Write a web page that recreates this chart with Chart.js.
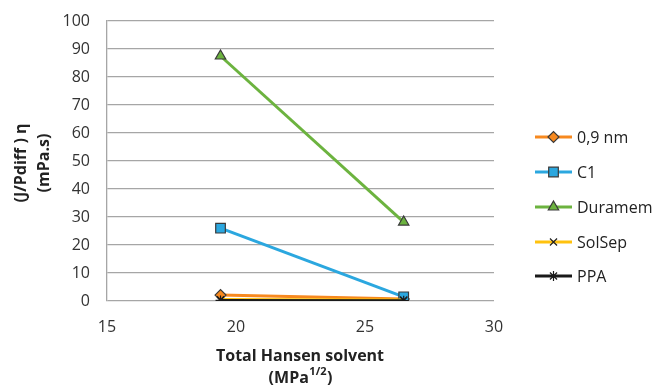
<!DOCTYPE html>
<html>
<head>
<meta charset="utf-8">
<script src="https://cdn.jsdelivr.net/npm/chart.js@4/dist/chart.umd.min.js"></script>
<style>
  html, body { margin: 0; padding: 0; background: #fff; }
  #wrap { width: 655px; height: 385px; }
</style>
</head>
<body>
<div id="wrap"><canvas id="c" width="655" height="385"></canvas></div>
<script>
// Total Hansen solubility parameter of the two solvents (MPa^1/2)
const solventDelta = [19.4, 26.5];

// (J/Pdiff) * viscosity for each membrane (mPa.s)
const seriesNames = ['0,9 nm', 'C1', 'Duramem', 'SolSep', 'PPA'];
const nm09    = [2.1, 0.7];
const c1      = [26.0, 1.5];
const duramem = [87.5, 28.2];
const solsep  = [0.5, 0.4];
const ppa     = [0.2, 0.1];

const xTicks = [15, 20, 25, 30];
const yTicks = [0, 10, 20, 30, 40, 50, 60, 70, 80, 90, 100];

const FONT = "'Open Sans', 'Liberation Sans', sans-serif";
const EDGE = '#3a3a3a';

function pts(vals) { return vals.map((v, i) => ({ x: solventDelta[i], y: v })); }

const styles = [
  { color: '#F7891F', fill: '#F7891F', point: 'rectRot', r: 5.5, border: EDGE },
  { color: '#2BA7DF', fill: '#2BA7DF', point: 'rect', r: 6.8, border: EDGE },
  { color: '#6CB33F', fill: '#6CB33F', point: 'triangle', r: 6, border: EDGE },
  { color: '#FFC20E', fill: '#FFC20E', point: 'crossRot', r: 5, border: '#222' },
  { color: '#1a1a1a', fill: '#1a1a1a', point: 'star', r: 5, border: '#1a1a1a' }
];
const values = [nm09, c1, duramem, solsep, ppa];

// later series are painted over earlier ones
const datasets = values.map((vals, i) => ({
  label: seriesNames[i],
  data: pts(vals),
  order: values.length - i,
  borderColor: styles[i].color,
  backgroundColor: styles[i].fill,
  borderWidth: 3,
  pointStyle: styles[i].point,
  pointRadius: styles[i].r,
  pointBackgroundColor: styles[i].fill,
  pointBorderColor: styles[i].border,
  pointBorderWidth: 1.2,
  showLine: true,
  tension: 0
}));

// Right-hand legend: line segment with the series marker, then the name
const sideLegend = {
  id: 'sideLegend',
  afterDraw(chart) {
    const ctx = chart.ctx;
    const x0 = 535, x1 = 572, tx = 577;
    const rowY = [137, 172, 207, 242, 276];
    ctx.save();
    chart.data.datasets.forEach((ds, i) => {
      const y = rowY[i];
      ctx.strokeStyle = ds.borderColor;
      ctx.lineWidth = 3;
      ctx.beginPath(); ctx.moveTo(x0, y); ctx.lineTo(x1, y); ctx.stroke();
      ctx.fillStyle = ds.pointBackgroundColor;
      ctx.strokeStyle = ds.pointBorderColor;
      ctx.lineWidth = ds.pointBorderWidth;
      Chart.helpers.drawPoint(ctx, { pointStyle: ds.pointStyle, radius: ds.pointRadius, borderWidth: ds.pointBorderWidth }, (x0 + x1) / 2, y);
      ctx.fillStyle = '#222';
      ctx.font = '16px ' + FONT;
      ctx.textAlign = 'left';
      ctx.textBaseline = 'middle';
      ctx.fillText(ds.label, tx, y + 1);
    });
    ctx.restore();
  }
};

// Axis titles, including the superscript unit on the x axis
const axisTitles = {
  id: 'axisTitles',
  afterDraw(chart) {
    const ctx = chart.ctx;
    ctx.save();
    ctx.fillStyle = '#222';
    ctx.font = 'bold 16px ' + FONT;
    ctx.textAlign = 'center';
    ctx.textBaseline = 'middle';
    // y title, two rotated lines
    ctx.save();
    ctx.translate(21, 163);
    ctx.rotate(-Math.PI / 2);
    ctx.fillText('(J/Pdiff ) η', 0, 0);
    ctx.restore();
    ctx.save();
    ctx.translate(44, 163);
    ctx.rotate(-Math.PI / 2);
    ctx.fillText('(mPa.s)', 0, 0);
    ctx.restore();
    // x title
    ctx.fillText('Total Hansen solvent', 300, 356);
    const a = '(MPa', sup = '1/2', b = ')';
    ctx.font = 'bold 16px ' + FONT;
    const wa = ctx.measureText(a).width, wb = ctx.measureText(b).width;
    ctx.font = 'bold 11px ' + FONT;
    const ws = ctx.measureText(sup).width;
    let x = 300 - (wa + ws + wb) / 2;
    ctx.textAlign = 'left';
    ctx.font = 'bold 16px ' + FONT;
    ctx.fillText(a, x, 378);
    x += wa;
    ctx.font = 'bold 11px ' + FONT;
    ctx.fillText(sup, x + 0.5, 372);
    x += ws + 1;
    ctx.font = 'bold 16px ' + FONT;
    ctx.fillText(b, x, 378);
    ctx.restore();
  }
};

new Chart(document.getElementById('c'), {
  type: 'scatter',
  data: { datasets },
  options: {
    responsive: false,
    animation: false,
    devicePixelRatio: 1,
    layout: { padding: { left: 0, right: 161, top: 21, bottom: 0 } },
    plugins: { legend: { display: false }, tooltip: { enabled: false } },
    scales: {
      x: {
        type: 'linear', min: 15, max: 30,
        afterBuildTicks(s) { s.ticks = xTicks.map(v => ({ value: v })); },
        afterFit(s) { s.height = 84; s.paddingLeft = 0; s.paddingRight = 0; },
        grid: { display: false, drawTicks: false },
        border: { display: false },
        ticks: { color: '#333', font: { family: FONT, size: 16 }, padding: 17 }
      },
      y: {
        type: 'linear', min: 0, max: 100,
        afterBuildTicks(s) { s.ticks = yTicks.map(v => ({ value: v })); },
        afterFit(s) { s.width = 107; s.paddingTop = 0; s.paddingBottom = 0; },
        grid: { color: '#a6a6a6', lineWidth: 1.3, drawTicks: false },
        border: { display: true, color: '#a6a6a6', width: 1.3 },
        ticks: { color: '#333', font: { family: FONT, size: 16 }, padding: 17 }
      }
    }
  },
  plugins: [sideLegend, axisTitles]
});
</script>
</body>
</html>
